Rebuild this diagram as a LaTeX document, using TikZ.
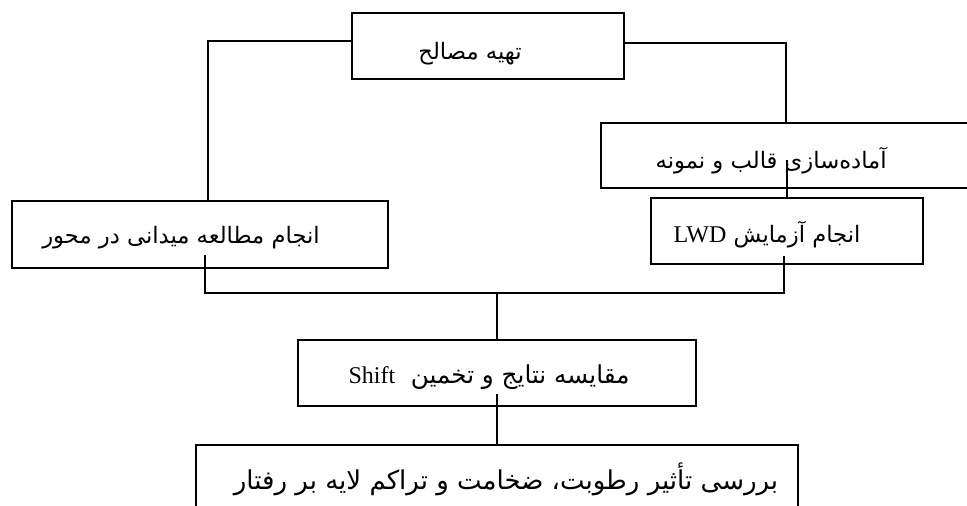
\documentclass[tikz,border=0pt]{standalone}
\usepackage{fontspec}
\usepackage{tikz}
\usetikzlibrary{positioning, calc}
\TeXXeTstate=1
\newfontfamily\farsi[Script=Arabic]{DejaVu Sans}
\newfontfamily\latinserif{Liberation Serif}
\newcommand{\lat}[1]{\beginL{\latinserif\fontsize{18}{20}\selectfont #1}\endL}
% text set off the box centre: #1 kern on the right, #2 lowering
\newcommand{\boxtxt}[3]{\raisebox{#2}[\height][\depth]{#3}\kern#1}

\begin{document}
\begin{tikzpicture}[
    x=0.75pt, y=-0.75pt,
    every node/.style={font=\farsi\fontsize{17}{20}\selectfont},
    stepbox/.style={rectangle, draw=black, line width=1.1pt, fill=white, inner sep=0pt, minimum height=66*0.75pt},
    link/.style={draw=black, line width=1.1pt}
]
\useasboundingbox (0,0) rectangle (967,506);
\clip (0,0) rectangle (967,506);

% boxes
\node[stepbox, minimum width=272*0.75pt] (supply) at (488,46) {\boxtxt{27pt}{-6pt}{\beginR تهیه مصالح\endR}};
\node[stepbox, minimum width=379*0.75pt, minimum height=65*0.75pt] (mould) at (790.5,155.5) {\boxtxt{29pt}{-4pt}{\beginR آماده‌سازی قالب و نمونه\endR}};
\node[stepbox, minimum width=376*0.75pt, minimum height=67*0.75pt] (field) at (200,234.5) {\boxtxt{28.5pt}{-2.5pt}{\beginR انجام مطالعه میدانی در محور\endR}};

% connectors drawn under the lower boxes
\coordinate (mi) at (787,160);
\draw[link] (mi) -- (787,198);

\node[stepbox, minimum width=272*0.75pt] (lwd) at (787,231) {\boxtxt{30pt}{-3pt}{\beginR انجام آزمایش \lat{LWD}\endR}};
\node[stepbox, minimum width=398*0.75pt, font=\farsi\fontsize{18.5}{21}\selectfont] (compare) at (497,373) {\boxtxt{12pt}{-3pt}{\beginR مقایسه نتایج و تخمین \ \lat{Shift}\endR}};
\node[stepbox, minimum width=602*0.75pt, font=\farsi\fontsize{19.5}{22}\selectfont] (effect) at (497,478) {\boxtxt{-13.5pt}{-1pt}{\beginR بررسی تأثیر رطوبت، ضخامت و تراکم لایه بر رفتار\endR}};

\coordinate (tl) at (208,41);
\coordinate (tr) at (786,43);
\draw[link] (supply.west |- tl) -- (tl) -- (tl |- field.north);
\draw[link] (supply.east |- tr) -- (tr) -- (tr |- mould.north);
\draw[link] (mi) -- (lwd.north);

\coordinate (fi) at (205,255);
\coordinate (li) at (784,256);
\coordinate (jl) at (205,293);
\coordinate (jr) at (784,293);
\draw[link] (fi) -- (jl) -- (jr) -- (li);
\draw[link] (compare.north) -- (compare.north |- jl);

\coordinate (ci) at (497,394);
\draw[link] (ci) -- (effect.north);
\end{tikzpicture}
\end{document}
